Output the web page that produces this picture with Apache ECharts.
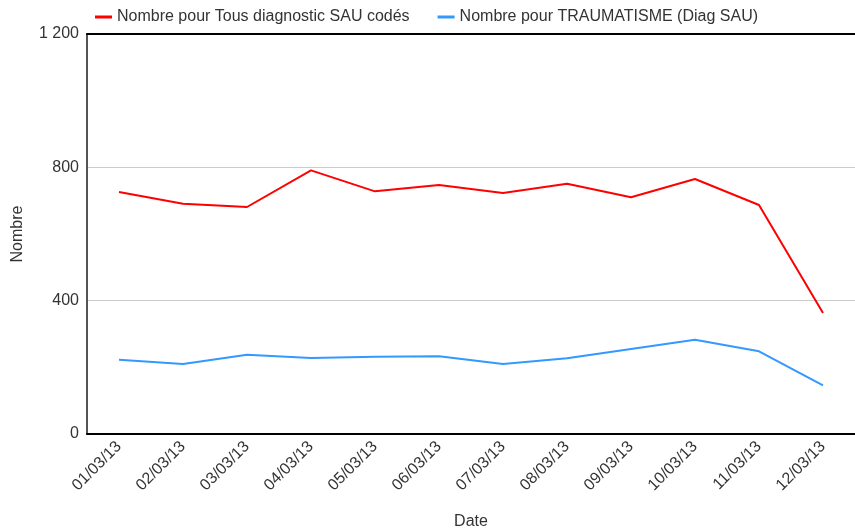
<!DOCTYPE html>
<html>
<head>
<meta charset="utf-8">
<script src="https://cdn.jsdelivr.net/npm/echarts@6/dist/echarts.min.js"></script>
<style>
    html, body {margin: 0; padding: 0; background: #fff;}
    #chart {width: 855px; height: 530px;}
</style>
</head>
<body>
<div id="chart"></div>
<script>
    var dates = ['01/03/13', '02/03/13', '03/03/13', '04/03/13', '05/03/13', '06/03/13',
        '07/03/13', '08/03/13', '09/03/13', '10/03/13', '11/03/13', '12/03/13'];
    var tousDiag = [726, 691, 681, 791, 728, 747, 723, 751, 710, 765, 687, 363];
    var trauma = [223, 210, 238, 228, 232, 233, 210, 227, 255, 283, 248, 146];
    var yTicks = [0, 400, 800, 1200];

    var fontFamily = '"Liberation Sans", Arial, sans-serif';
    var txtColor = '#333';

    var myChart = echarts.init(document.getElementById('chart'));
    var option = {
        animation: false,
        textStyle: {fontFamily: fontFamily},
        legend: {
            left: 90,
            top: 4,
            icon: 'rect',
            itemWidth: 17,
            itemHeight: 3,
            itemGap: 28,
            textStyle: {fontSize: 16, color: txtColor, fontFamily: fontFamily},
            data: ['Nombre pour Tous diagnostic SAU codés', 'Nombre pour TRAUMATISME (Diag SAU)']
        },
        grid: {left: 87, right: 0, top: 34, bottom: 96, outerBoundsMode: 'none', containLabel: false},
        xAxis: [
            {
                type: 'category',
                data: dates,
                name: 'Date',
                nameLocation: 'middle',
                nameGap: 80,
                nameTextStyle: {fontSize: 16, color: txtColor},
                axisLine: {lineStyle: {color: '#000', width: 2}},
                axisTick: {alignWithLabel: true, length: 4, lineStyle: {color: '#000'}},
                axisLabel: {rotate: 45, fontSize: 16, color: txtColor, margin: 10}
            },
            {
                type: 'category',
                position: 'top',
                data: dates,
                axisLine: {show: true, lineStyle: {color: '#000', width: 2}},
                axisTick: {show: false},
                axisLabel: {show: false}
            }
        ],
        yAxis: {
            type: 'value',
            min: 0,
            max: 1200,
            interval: 400,
            name: 'Nombre',
            nameLocation: 'middle',
            nameGap: 61,
            nameTextStyle: {fontSize: 16, color: txtColor},
            axisLine: {show: true, lineStyle: {color: '#555', width: 2}},
            axisTick: {show: false},
            splitLine: {lineStyle: {color: '#ccc', width: 1}},
            axisLabel: {
                fontSize: 16,
                color: txtColor,
                margin: 8,
                formatter: function (v) {
                    return yTicks.indexOf(v) >= 0 ? String(v).replace(/\B(?=(\d{3})+(?!\d))/g, ' ') : '';
                }
            }
        },
        series: [
            {
                name: 'Nombre pour Tous diagnostic SAU codés',
                type: 'line',
                symbol: 'none',
                color: '#ff0000',
                lineStyle: {width: 2, color: '#ff0000'},
                data: tousDiag
            },
            {
                name: 'Nombre pour TRAUMATISME (Diag SAU)',
                type: 'line',
                symbol: 'none',
                color: '#3399ff',
                lineStyle: {width: 2, color: '#3399ff'},
                data: trauma
            }
        ]
    };
    myChart.setOption(option);
</script>
</body>
</html>
